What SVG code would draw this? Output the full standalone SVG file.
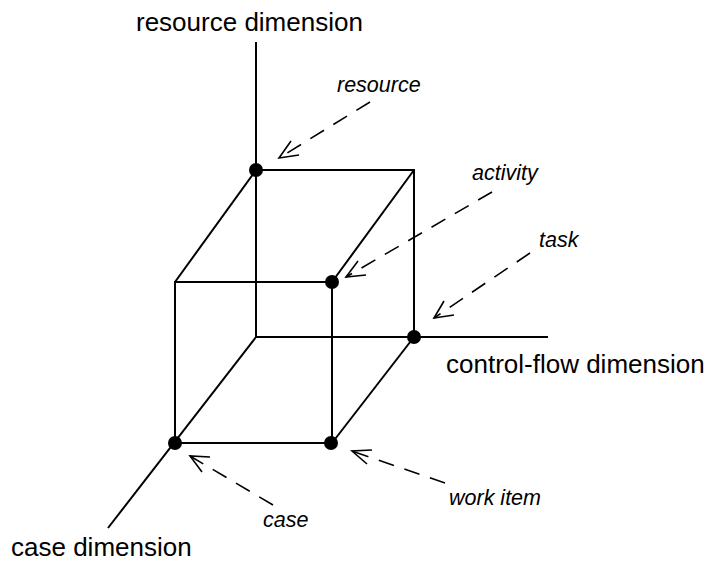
<svg xmlns="http://www.w3.org/2000/svg" width="707" height="561" viewBox="0 0 707 561">
<style>
.ln{stroke:#000;stroke-width:2;fill:none}
.da{stroke:#000;stroke-width:1.6;fill:none;stroke-dasharray:16 11}
.ah{stroke:#000;stroke-width:1.6;fill:none}
.dot{fill:#000}
.ax{font-family:"Liberation Sans",Arial,sans-serif;font-size:26px;fill:#000}
.lb{font-family:"Liberation Sans",Arial,sans-serif;font-size:21.5px;font-style:italic;fill:#000}
</style>
<rect width="707" height="561" fill="#fff"/>
<g id="axes">
<line class="ln" x1="256" y1="42" x2="256" y2="337"/>
<line class="ln" x1="256" y1="337" x2="548" y2="337"/>
<line class="ln" x1="256" y1="337" x2="108" y2="528"/>
<text class="ax" x="136" y="31">resource dimension</text>
<text class="ax" x="446" y="373">control-flow dimension</text>
<text class="ax" x="11" y="556">case dimension</text>
</g>
<g id="cube">
<polyline class="ln" points="256,170 414,170 414,337"/>
<rect class="ln" x="175" y="282" width="157" height="161"/>
<line class="ln" x1="256" y1="170" x2="175" y2="282"/>
<line class="ln" x1="414" y1="170" x2="332" y2="282"/>
<line class="ln" x1="414" y1="337" x2="332" y2="443"/>
</g>
<g id="resource"><circle class="dot" cx="256" cy="170" r="7"/><text class="lb" x="337" y="92">resource</text></g>
<g id="activity"><circle class="dot" cx="332" cy="282" r="7"/><text class="lb" x="472" y="180">activity</text></g>
<g id="task"><circle class="dot" cx="414" cy="337" r="7"/><text class="lb" x="539" y="247">task</text></g>
<g id="case"><circle class="dot" cx="175" cy="443" r="7"/><text class="lb" x="263" y="527">case</text></g>
<g id="work-item"><circle class="dot" cx="331" cy="443" r="7"/><text class="lb" x="449" y="505">work item</text></g>
<g id="connectors">
<line class="da" x1="370" y1="102" x2="279" y2="158"/>
<polyline class="ah" points="291,141 279,158 299,155"/>
<line class="da" x1="492" y1="192" x2="346" y2="277"/>
<polyline class="ah" points="358,261 346,277 366,275"/>
<line class="da" x1="530" y1="253" x2="434" y2="318"/>
<polyline class="ah" points="444,301 434,318 454,315"/>
<line class="da" x1="273" y1="505" x2="190" y2="456"/>
<polyline class="ah" points="210,457 190,456 202,472"/>
<line class="da" x1="445" y1="483" x2="352" y2="451"/>
<polyline class="ah" points="372,450 352,451 367,464"/>
</g>
</svg>
